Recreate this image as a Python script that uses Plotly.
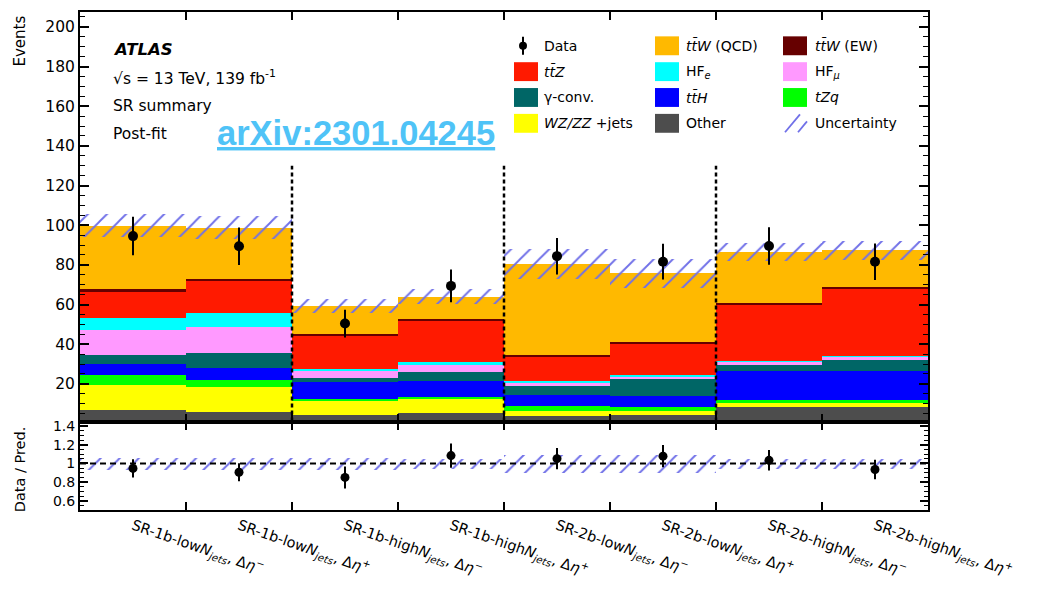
import plotly.graph_objects as go

# ---------------- data ----------------
regions = [
    "SR-1b-low<i>N</i><sub><i>jets</i></sub>, Δ<i>η</i><sup>−</sup>",
    "SR-1b-low<i>N</i><sub><i>jets</i></sub>, Δ<i>η</i><sup>+</sup>",
    "SR-1b-high<i>N</i><sub><i>jets</i></sub>, Δ<i>η</i><sup>−</sup>",
    "SR-1b-high<i>N</i><sub><i>jets</i></sub>, Δ<i>η</i><sup>+</sup>",
    "SR-2b-low<i>N</i><sub><i>jets</i></sub>, Δ<i>η</i><sup>−</sup>",
    "SR-2b-low<i>N</i><sub><i>jets</i></sub>, Δ<i>η</i><sup>+</sup>",
    "SR-2b-high<i>N</i><sub><i>jets</i></sub>, Δ<i>η</i><sup>−</sup>",
    "SR-2b-high<i>N</i><sub><i>jets</i></sub>, Δ<i>η</i><sup>+</sup>",
]

# post-fit yields per region (stacked bottom -> top)
other   = [6.6, 5.7, 4.4, 5.2, 3.6, 4.1, 8.2, 8.2]
wzzz    = [12.9, 12.6, 6.9, 7.2, 2.6, 2.1, 2.2, 2.2]
tzq     = [5.2, 3.8, 1.2, 0.9, 2.4, 2.0, 1.5, 1.5]
tth     = [5.3, 5.7, 8.5, 8.3, 5.9, 5.7, 14.4, 14.4]
gconv   = [4.7, 7.7, 2.0, 4.2, 4.3, 8.6, 3.4, 5.9]
hf_mu   = [12.4, 13.4, 3.3, 3.7, 2.0, 1.2, 1.5, 1.5]
hf_e    = [6.3, 6.9, 1.3, 1.7, 0.5, 0.8, 0.4, 0.4]
ttz     = [13.4, 16.4, 16.6, 20.6, 12.4, 15.6, 28.5, 33.9]
ttw_ew  = [0.8, 0.8, 0.8, 0.8, 0.8, 0.8, 0.9, 0.9]
ttw_qcd = [32.2, 25.8, 14.3, 11.4, 45.8, 34.8, 25.6, 18.4]

# total post-fit uncertainty (absolute)
uncertainty = [6.0, 6.0, 3.7, 3.7, 7.5, 7.2, 4.6, 4.6]

data_counts = [94.5, 89.4, 50.4, 69.4, 84.4, 81.6, 89.5, 81.6]
data_errors = [9.7, 9.5, 7.0, 8.3, 9.2, 9.0, 9.5, 9.2]

components = [
    ("Other", other, "#4d4d4d"),
    ("WZ/ZZ+jets", wzzz, "#ffff00"),
    ("tZq", tzq, "#00ff00"),
    ("ttH", tth, "#0000ff"),
    ("gamma-conv", gconv, "#006666"),
    ("HFmu", hf_mu, "#ff99ff"),
    ("HFe", hf_e, "#00ffff"),
    ("ttZ", ttz, "#ff1a00"),
    ("ttW EW", ttw_ew, "#660000"),
    ("ttW QCD", ttw_qcd, "#ffb900"),
]

n = len(regions)
centers = list(range(n))
total = [sum(c[1][i] for c in components) for i in range(n)]
ratio = [d / t for d, t in zip(data_counts, total)]
ratio_err = [e / t for e, t in zip(data_errors, total)]
rel_unc = [u / t for u, t in zip(uncertainty, total)]

HATCH = "#7070e8"
FONT = "DejaVu Sans"
hatch_pattern = dict(shape="/", fgcolor=HATCH, bgcolor="rgba(0,0,0,0)", fgopacity=1,
                     size=13.5, solidity=0.14, fillmode="overlay")

fig = go.Figure()

for name, vals, col in components:
    fig.add_trace(go.Bar(
        x=centers, y=vals, width=1, name=name, showlegend=False,
        marker=dict(color=col, line=dict(width=0)),
        xaxis="x", yaxis="y", hoverinfo="skip",
    ))

# hatched uncertainty band on the stack
fig.add_trace(go.Bar(
    x=centers, base=[t - u for t, u in zip(total, uncertainty)],
    y=[2 * u for u in uncertainty], width=1, showlegend=False,
    marker=dict(color="rgba(0,0,0,0)", line=dict(width=0), pattern=hatch_pattern),
    xaxis="x", yaxis="y", hoverinfo="skip",
))

fig.add_trace(go.Scatter(
    x=centers, y=data_counts, mode="markers", showlegend=False,
    marker=dict(color="black", size=10),
    error_y=dict(type="data", array=data_errors, color="black", thickness=2, width=0),
    xaxis="x", yaxis="y",
))

# ratio panel
fig.add_trace(go.Bar(
    x=centers, base=[1 - r for r in rel_unc], y=[2 * r for r in rel_unc],
    width=1, showlegend=False,
    marker=dict(color="rgba(0,0,0,0)", line=dict(width=0), pattern=hatch_pattern),
    xaxis="x2", yaxis="y2", hoverinfo="skip",
))
fig.add_trace(go.Scatter(
    x=centers, y=ratio, mode="markers", showlegend=False,
    marker=dict(color="black", size=9),
    error_y=dict(type="data", array=ratio_err, color="black", thickness=2, width=0),
    xaxis="x2", yaxis="y2",
))

# ---------------- layout ----------------
W, H = 1037, 591
ML, MR, MT, MB = 80, 109, 9, 81
PW, PH = W - ML - MR, H - MT - MB
split = (H - MB - 421) / PH


def px(x):
    return (x - ML) / PW


def py(y):
    return (H - MB - y) / PH


edges = [i + 0.5 for i in range(n - 1)]
axis_common = dict(showline=True, linecolor="black", linewidth=2, mirror="allticks",
                   showgrid=False, zeroline=False, tickcolor="black", tickwidth=1.5)

fig.update_layout(
    width=W, height=H, autosize=False,
    margin=dict(l=ML, r=MR, t=MT, b=MB),
    paper_bgcolor="white", plot_bgcolor="white",
    barmode="stack", bargap=0,
    font=dict(family=FONT, color="black", size=15),
    xaxis=dict(range=[-0.5, n - 0.5], anchor="y", domain=[0, 1],
               tickvals=edges, ticks="inside", ticklen=8, showticklabels=False,
               **axis_common),
    yaxis=dict(range=[1, 207.5], domain=[split, 1], anchor="x",
               tickvals=list(range(20, 201, 20)), ticks="inside", ticklen=9,
               minor=dict(dtick=5, ticks="inside", ticklen=5, tickcolor="black", tickwidth=1.2),
               tickfont=dict(family=FONT, size=15.5), **axis_common),
    xaxis2=dict(range=[-0.5, n - 0.5], anchor="y2", domain=[0, 1],
                tickvals=centers, ticktext=regions, ticks="", tickangle=19,
                minor=dict(tickvals=edges, ticks="inside", ticklen=8, tickcolor="black", tickwidth=1.5),
                tickfont=dict(family=FONT, size=14.5), **axis_common),
    yaxis2=dict(range=[0.5, 1.45], domain=[0, split], anchor="x2",
                tickvals=[0.6, 0.8, 1.0, 1.2, 1.4], ticktext=["0.6", "0.8", "1", "1.2", "1.4"],
                ticks="inside", ticklen=8,
                minor=dict(dtick=0.05, ticks="inside", ticklen=4, tickcolor="black", tickwidth=1.2),
                tickfont=dict(family=FONT, size=14), **axis_common),
)

shapes = []
# region separators
for xe in [1.5, 3.5, 5.5]:
    shapes.append(dict(type="line", xref="x", yref="y", x0=xe, x1=xe, y0=1, y1=130,
                       line=dict(color="black", width=2.5, dash="4px,3px"), layer="above"))
# unity line in ratio
shapes.append(dict(type="line", xref="x2 domain", yref="y2", x0=0, x1=1, y0=1, y1=1,
                   line=dict(color="black", width=2, dash="6px,4px"), layer="above"))

# legend
legend_rows = [43, 69, 95, 121]
col_swatch = [514, 655, 783]
col_text = [542, 684, 813]
legend_items = [
    (0, 0, "Data", None),
    (1, 0, "<i>tt̄W</i> (QCD)", "#ffb900"),
    (2, 0, "<i>tt̄W</i> (EW)", "#660000"),
    (0, 1, "<i>tt̄Z</i>", "#ff1a00"),
    (1, 1, "HF<sub><i>e</i></sub>", "#00ffff"),
    (2, 1, "HF<sub><i>μ</i></sub>", "#ff99ff"),
    (0, 2, "γ-conv.", "#006666"),
    (1, 2, "<i>tt̄H</i>", "#0000ff"),
    (2, 2, "<i>tZq</i>", "#00ff00"),
    (0, 3, "<i>WZ/ZZ</i> +jets", "#ffff00"),
    (1, 3, "Other", "#4d4d4d"),
    (2, 3, "Uncertainty", None),
]
annotations = []
for c, r, label, col in legend_items:
    yc = legend_rows[r]
    x0 = col_swatch[c]
    if col is not None:
        shapes.append(dict(type="rect", xref="paper", yref="paper",
                           x0=px(x0), x1=px(x0 + 24), y0=py(yc + 9.5), y1=py(yc - 9.5),
                           fillcolor=col, line=dict(width=0)))
    annotations.append(dict(text=label, xref="paper", yref="paper", x=px(col_text[c]), y=py(yc),
                            xanchor="left", yanchor="middle", showarrow=False,
                            font=dict(family=FONT, size=14)))
# data marker in legend
shapes.append(dict(type="line", xref="paper", yref="paper", x0=px(523), x1=px(523),
                   y0=py(52), y1=py(34), line=dict(color="black", width=2)))
shapes.append(dict(type="circle", xref="paper", yref="paper", x0=px(519), x1=px(527),
                   y0=py(47), y1=py(39), fillcolor="black", line=dict(width=0)))
# hatch marker in legend
shapes.append(dict(type="line", xref="paper", yref="paper", x0=px(785), x1=px(800),
                   y0=py(130), y1=py(112), line=dict(color=HATCH, width=1.8)))
shapes.append(dict(type="line", xref="paper", yref="paper", x0=px(798), x1=px(807),
                   y0=py(130), y1=py(119), line=dict(color=HATCH, width=1.8)))

# labels
annotations += [
    dict(text="<b><i>ATLAS</i></b>", x=px(111), y=py(47), font=dict(size=16.5)),
    dict(text="√s = 13 TeV, 139 fb<sup>-1</sup>", x=px(111), y=py(75), font=dict(size=15.5)),
    dict(text="SR summary", x=px(111), y=py(104), font=dict(size=15.5)),
    dict(text="Post-fit", x=px(111), y=py(132), font=dict(size=15.5)),
    dict(text="<b><u>arXiv:2301.04245</u></b>", x=px(215), y=py(131),
         font=dict(family="Liberation Sans", size=34.5, color="#4fc3f7")),
]
for a in annotations[-5:]:
    a.update(xref="paper", yref="paper", xanchor="left", yanchor="middle", showarrow=False)
    a["font"].setdefault("family", FONT)

annotations.append(dict(text="Events", xref="paper", yref="paper", x=px(20), y=py(11),
                        xanchor="center", yanchor="top", textangle=-90, showarrow=False,
                        font=dict(family=FONT, size=15)))
annotations.append(dict(text="Data / Pred.", xref="paper", yref="paper", x=px(20), y=py(469),
                        xanchor="center", yanchor="middle", textangle=-90, showarrow=False,
                        font=dict(family=FONT, size=14.5)))

fig.update_layout(shapes=shapes, annotations=annotations)

fig.write_html("out.html")
